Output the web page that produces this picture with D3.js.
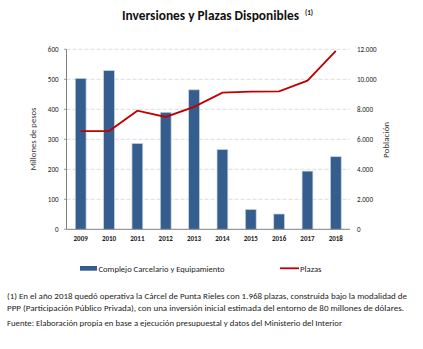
<!DOCTYPE html>
<html><head><meta charset="utf-8">
<script src="https://cdn.jsdelivr.net/npm/d3@7"></script>
<style>
body{margin:0;background:#fff;}
svg{display:block;font-family:Carlito,Lato,"Open Sans",sans-serif;}
</style></head>
<body>
<svg id="c" width="423" height="349"></svg>
<script>
const years = ["2009","2010","2011","2012","2013","2014","2015","2016","2017","2018"];
const inversion = [503,529,286,390,465,266,66,51,194,242];
const plazas = [6550,6550,7910,7490,8160,9110,9180,9200,9910,11890];
const leftTicks = [0,100,200,300,400,500,600];
const rightTicks = [0,2000,4000,6000,8000,10000,12000];

const svg = d3.select("#c");
const L=66.5, R=350, T=49.3, B=229.3;
const x = d3.scaleBand().domain(years).range([L,R]);
const yL = d3.scaleLinear().domain([0,600]).range([B,T]);
const yR = d3.scaleLinear().domain([0,12000]).range([B,T]);
const fmt = d => d3.format(",")(d).replace(/,/g,".");

// gridlines
svg.append("g").selectAll("line").data(leftTicks.filter(d=>d>0)).join("line")
  .attr("x1",L).attr("x2",R).attr("y1",d=>yL(d)).attr("y2",d=>yL(d))
  .attr("stroke","#d4d4d4").attr("stroke-width",0.8).attr("stroke-dasharray","4,2");

// left tick labels
svg.append("g").selectAll("text").data(leftTicks).join("text")
  .attr("x",58.5).attr("y",d=>yL(d)+2.5).attr("text-anchor","end")
  .attr("font-size",7).attr("fill","#222").text(d=>d);
svg.append("g").selectAll("line").data(leftTicks).join("line")
  .attr("x1",L-2.5).attr("x2",L).attr("y1",d=>yL(d)).attr("y2",d=>yL(d))
  .attr("stroke","#808080").attr("stroke-width",0.8);
// right tick labels
svg.append("g").selectAll("text").data(rightTicks).join("text")
  .attr("x",357).attr("y",d=>yR(d)+2.5).attr("text-anchor","start")
  .attr("font-size",7).attr("fill","#222").text(d=>fmt(d));

// bars
svg.append("g").selectAll("rect").data(years).join("rect")
  .attr("x",d=>x(d)+x.bandwidth()/2-5.4).attr("width",10.8)
  .attr("y",(d,i)=>yL(inversion[i])).attr("height",(d,i)=>B-yL(inversion[i]))
  .attr("fill","#355e8f").attr("stroke","#c8d3e3").attr("stroke-width",0.7);

// axes lines
svg.append("line").attr("x1",L).attr("x2",L).attr("y1",T).attr("y2",B)
  .attr("stroke","#808080").attr("stroke-width",1);
svg.append("line").attr("x1",L).attr("x2",R).attr("y1",B).attr("y2",B)
  .attr("stroke","#808080").attr("stroke-width",1);

// line
const line = d3.line().x((d,i)=>x(years[i])+x.bandwidth()/2).y(d=>yR(d));
svg.append("path").datum(plazas).attr("d",line).attr("fill","none")
  .attr("stroke","#c00000").attr("stroke-width",1.8);

// x labels
svg.append("g").selectAll("text").data(years).join("text")
  .attr("x",d=>x(d)+x.bandwidth()/2).attr("y",241).attr("text-anchor","middle")
  .attr("font-size",7).attr("font-weight","bold").attr("fill","#222").text(d=>d);

// axis titles
svg.append("text").attr("transform","translate(36,139) rotate(-90)")
  .attr("text-anchor","middle").attr("font-size",8).attr("fill","#333")
  .attr("textLength",63).attr("lengthAdjust","spacingAndGlyphs").text("Millones de pesos");
svg.append("text").attr("transform","translate(389,140) rotate(-90)")
  .attr("text-anchor","middle").attr("font-size",8).attr("fill","#333")
  .attr("textLength",36).attr("lengthAdjust","spacingAndGlyphs").text("Población");

// title
svg.append("text").attr("x",122).attr("y",20).attr("font-size",13.5)
  .attr("font-weight","bold").attr("fill","#111")
  .attr("textLength",177).attr("lengthAdjust","spacingAndGlyphs")
  .text("Inversiones y Plazas  Disponibles");
svg.append("text").attr("x",305).attr("y",15).attr("font-size",7).attr("font-weight","bold")
  .attr("fill","#111").text("(1)");

// legend
svg.append("rect").attr("x",80).attr("y",266).attr("width",17).attr("height",4.7).attr("fill","#355e8f");
svg.append("text").attr("x",98.5).attr("y",271.5).attr("font-size",8).attr("fill","#222")
  .attr("textLength",126).attr("lengthAdjust","spacingAndGlyphs")
  .text("Complejo Carcelario y Equipamiento");
svg.append("line").attr("x1",280).attr("x2",299).attr("y1",268.3).attr("y2",268.3)
  .attr("stroke","#c00000").attr("stroke-width",1.8);
svg.append("text").attr("x",300).attr("y",271.5).attr("font-size",8).attr("fill","#222")
  .attr("textLength",21.5).attr("lengthAdjust","spacingAndGlyphs").text("Plazas");

// footnotes
const notes = [
 ["(1) En el año 2018 quedó operativa la Cárcel de Punta Rieles con 1.968 plazas,  construida bajo la modalidad de", 299, 400],
 ["PPP (Participación Público Privada), con una inversión inicial estimada del entorno de 80 millones de dólares.", 311, 397],
 ["Fuente: Elaboración propia en base a ejecución presupuestal y datos del Ministerio del Interior", 325.5, 335]
];
svg.append("g").selectAll("text").data(notes).join("text")
  .attr("x",7).attr("y",d=>d[1]).attr("font-size",7.6).attr("fill","#222")
  .attr("textLength",d=>d[2]).attr("lengthAdjust","spacingAndGlyphs").text(d=>d[0]);
</script>
</body></html>
